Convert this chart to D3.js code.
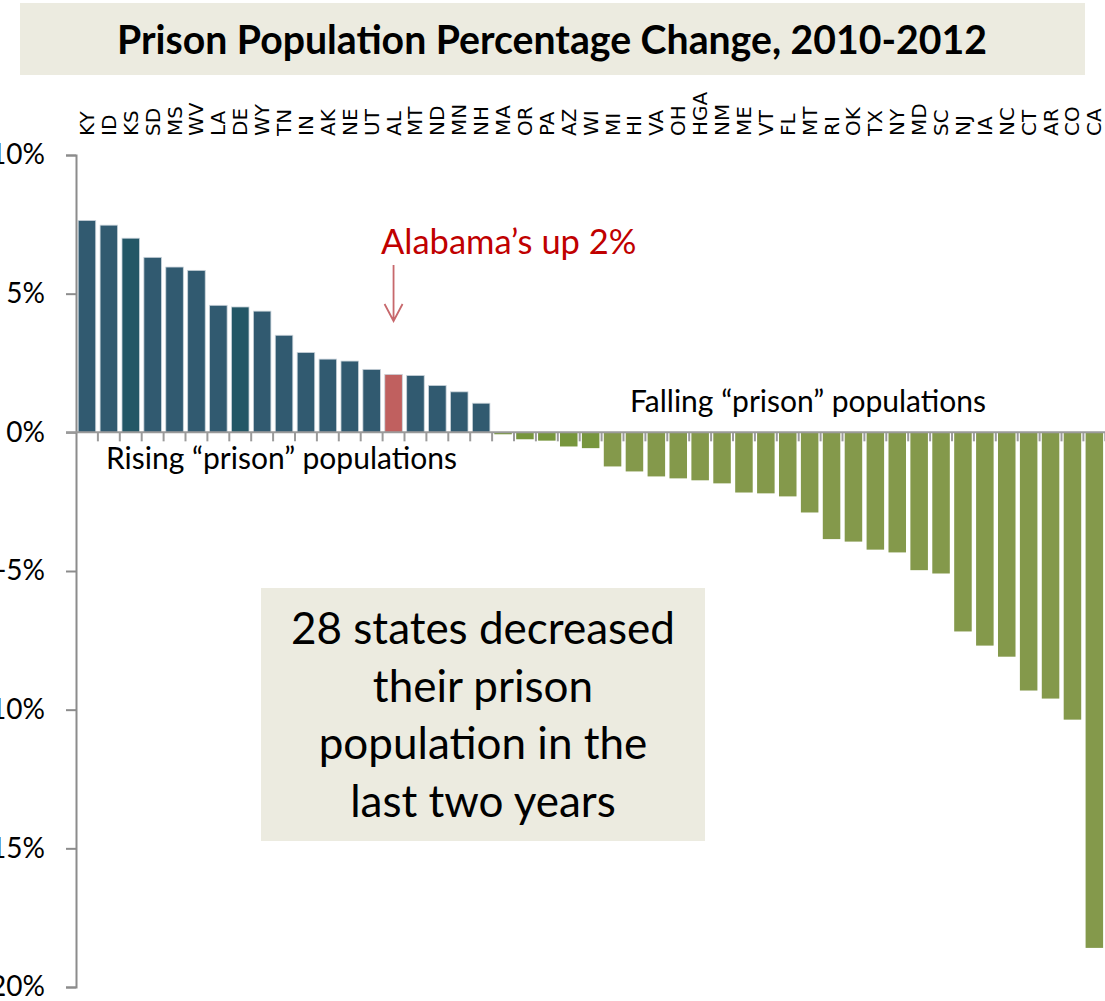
<!DOCTYPE html>
<html><head><meta charset="utf-8">
<script src="https://cdn.jsdelivr.net/npm/d3@7"></script>
<style>
html,body{margin:0;padding:0;background:#fff;}
svg{display:block;}
</style></head>
<body>
<svg id="chart" width="1105" height="1001"></svg>
<script>
const states = ["KY","ID","KS","SD","MS","WV","LA","DE","WY","TN","IN","AK","NE","UT","AL","MT","ND","MN","NH",
  "MA","OR","PA","AZ","WI","MI","HI","VA","OH","HGA","NM","ME","VT","FL","MT ","RI","OK","TX","NY","MD","SC","NJ","IA","NC","CT","AR","CO","CA"];
const changes = [7.64,7.47,7.0,6.31,5.96,5.84,4.58,4.52,4.37,3.50,2.88,2.64,2.57,2.27,2.09,2.05,1.69,1.46,1.05,
  -0.07,-0.25,-0.3,-0.51,-0.57,-1.23,-1.41,-1.59,-1.66,-1.73,-1.84,-2.17,-2.2,-2.31,-2.89,-3.85,-3.94,-4.23,-4.33,-4.97,-5.09,-7.18,-7.69,-8.09,-9.31,-9.60,-10.36,-18.59];
const yTicks = [10,5,0,-5,-10,-15,-20];
const title = "Prison Population Percentage Change, 2010-2012";
const boxLines = ["28 states decreased","their prison","population in the","last two years"];

const svg = d3.select("#chart");
const x = d3.scaleBand().domain(states).range([76,1105.3]).paddingInner(0.2).paddingOuter(0.1);
const y = d3.scaleLinear().domain([-20,10]).range([987,155]);
const font = "Lato, 'Open Sans', sans-serif";

// title box
svg.append("rect").attr("x",20).attr("y",3).attr("width",1065).attr("height",72).attr("fill","#ecebe0");
svg.append("text").attr("x",552).attr("y",54).attr("text-anchor","middle")
  .attr("font-family",font).attr("font-weight","bold").attr("font-size",39.2).attr("fill","#000").text(title);

// bars
const color = (d,i) => {
  if (d==="AL") return "#c0605f";
  if (changes[i] >= 0) return (d==="KS"||d==="DE") ? "#235766" : "#315a70";
  return (i>=19 && i<=23) ? "#77963d" : "#84994b";
};
svg.append("g").selectAll("rect").data(states).join("rect")
  .attr("x",d=>x(d)).attr("width",x.bandwidth())
  .attr("y",(d,i)=>y(Math.max(0,changes[i])))
  .attr("height",(d,i)=>Math.abs(y(changes[i])-y(0)))
  .attr("fill",(d,i)=>color(d,i))
  .attr("stroke",(d,i)=>changes[i]>=0?"#c9d3da":"none").attr("stroke-width",0.8);

// y axis
const yAxis = d3.axisLeft(y).tickValues(yTicks).tickSize(10).tickPadding(21).tickFormat(d=>d+"%");
const gy = svg.append("g").attr("transform","translate(76,0)").call(yAxis);
gy.select(".domain").attr("stroke","#8c8c8c").attr("stroke-width",2);
gy.selectAll(".tick line").attr("stroke","#8c8c8c").attr("stroke-width",2);
gy.selectAll(".tick text").attr("font-family",font).attr("font-size",28).attr("fill","#000");

// x axis line and ticks at band boundaries
svg.append("line").attr("x1",66).attr("x2",1105).attr("y1",y(0)).attr("y2",y(0)).attr("stroke","#9a9a9a").attr("stroke-width",2);
svg.append("g").selectAll("line").data(states).join("line")
  .attr("x1",d=>x(d)+x.bandwidth()+x.step()*0.1).attr("x2",d=>x(d)+x.bandwidth()+x.step()*0.1)
  .attr("y1",y(0)).attr("y2",y(0)+9).attr("stroke","#9a9a9a").attr("stroke-width",2);

// category labels
svg.append("g").selectAll("text").data(states).join("text")
  .attr("transform",d=>`translate(${x(d)+x.bandwidth()/2+7},136) rotate(-90)`)
  .attr("font-family","'DejaVu Sans', sans-serif").attr("font-size",20).attr("fill","#000")
  .text(d=>d.trim());

// annotations
svg.append("text").attr("x",381).attr("y",254).attr("font-family",font).attr("font-size",34.5).attr("fill","#c00000").text("Alabama\u2019s up 2%");
const ax = x("AL")+x.bandwidth()/2;
svg.append("path").attr("d",`M${ax},265 L${ax},321 M${ax-9},304 L${ax},321 L${ax+9},304`)
  .attr("fill","none").attr("stroke","#c7686c").attr("stroke-width",1.8);
svg.append("text").attr("x",106).attr("y",469).attr("font-family",font).attr("font-size",30).attr("fill","#000").text("Rising \u201cprison\u201d populations");
svg.append("text").attr("x",630).attr("y",412).attr("font-family",font).attr("font-size",30).attr("fill","#000").text("Falling \u201cprison\u201d populations");

// box
svg.append("rect").attr("x",261).attr("y",588).attr("width",444).attr("height",253).attr("fill","#ecebe0");
svg.append("g").selectAll("text").data(boxLines).join("text")
  .attr("x",483).attr("y",(d,i)=>644+i*57.5).attr("text-anchor","middle")
  .attr("font-family",font).attr("font-size",44).attr("fill","#000").text(d=>d);
</script>
</body></html>
